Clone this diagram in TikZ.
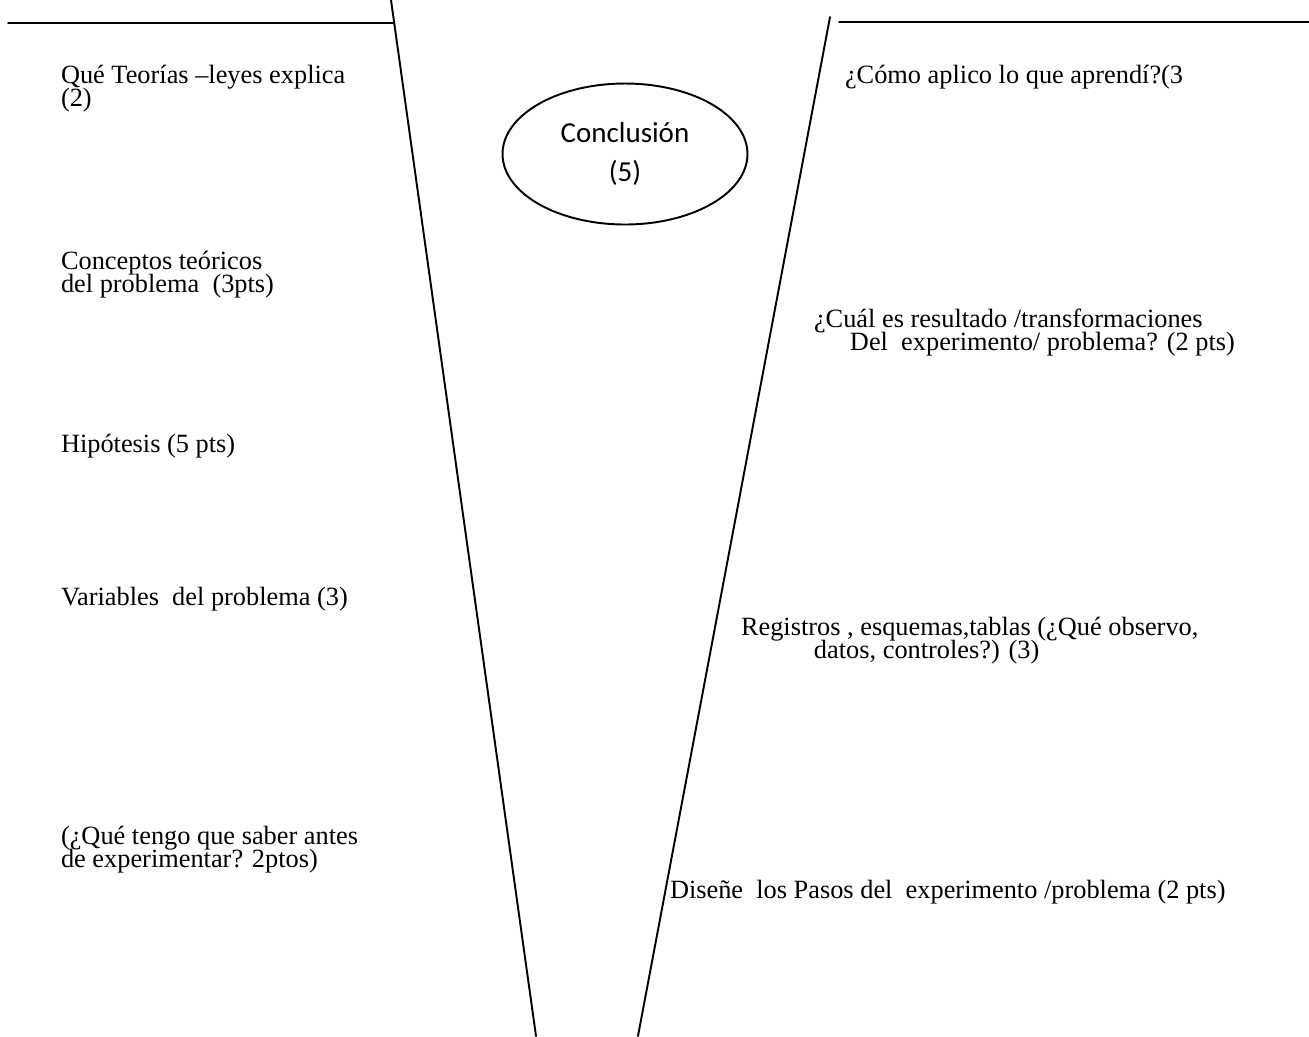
\documentclass[tikz,border=0pt]{standalone}
\usepackage{fontspec}
\setmainfont{Liberation Serif}
\newfontfamily\ovalfont{Carlito}
\usetikzlibrary{shapes.geometric}
\lineskiplimit=-\maxdimen
\tikzset{
	vline/.style={line width=1.1pt,line cap=round},
	item/.style={anchor=base west,inner sep=0,outer sep=0,align=left,font=\fontsize{15}{12.9}\selectfont},
	oval/.style={draw,ellipse,line width=1.1pt,minimum width=4.9cm,minimum height=2.82cm,inner sep=0,align=center,font=\ovalfont\fontsize{16.5}{22}\selectfont}
}

\begin{document}
\begin{tikzpicture}[x=0.02cm,y=-0.02cm]
	\useasboundingbox (0,0) rectangle (1309,1036);
	\coordinate (lt) at (391,0);
	\coordinate (lb) at (536,1036);
	\coordinate (rt) at (830,17);
	\coordinate (rb) at (638,1036);
	\coordinate (hl) at (8,23);
	\coordinate (hlr) at (394,23);
	\coordinate (hr) at (839,22);
	\coordinate (hrr) at (1309,22);
	\draw[vline] (lt) -- (lb);
	\draw[vline] (rt) -- (rb);
	\draw[vline] (hl) -- (hlr);
	\draw[vline] (hr) -- (hrr);
	\node[oval] (conclusion) at (625,154) {Conclusión\\(5)};
	% multi-line items sit on the baseline of their last line
	\node[item] (teorias) at (61,106) {Qué Teorías –leyes explica\\(2)};
	\node[item] (conceptos) at (61,292) {Conceptos teóricos\\del problema\ \ (3pts)};
	\node[item] (hipotesis) at (61,452) {Hipótesis (5 pts)};
	\node[item] (variables) at (61,605) {Variables\ \ del problema (3)};
	\node[item] (saber) at (61,867) {(¿Qué tengo que saber antes\\de experimentar? 2ptos)};
	\node[item] (aplico) at (845,83) {¿Cómo aplico lo que aprendí?(3};
	\node[item] (resultado) at (814,350) {¿Cuál es resultado /transformaciones\\\hspace*{0.72cm}Del\ \ experimento/ problema? (2 pts)};
	\node[item] (registros) at (741,658) {Registros , esquemas,tablas (¿Qué observo,\\\hspace*{1.46cm}datos, controles?) (3)};
	\node[item] (pasos) at (670,898) {Diseñe\ \ los Pasos del\ \ experimento /problema (2 pts)};
\end{tikzpicture}
\end{document}
